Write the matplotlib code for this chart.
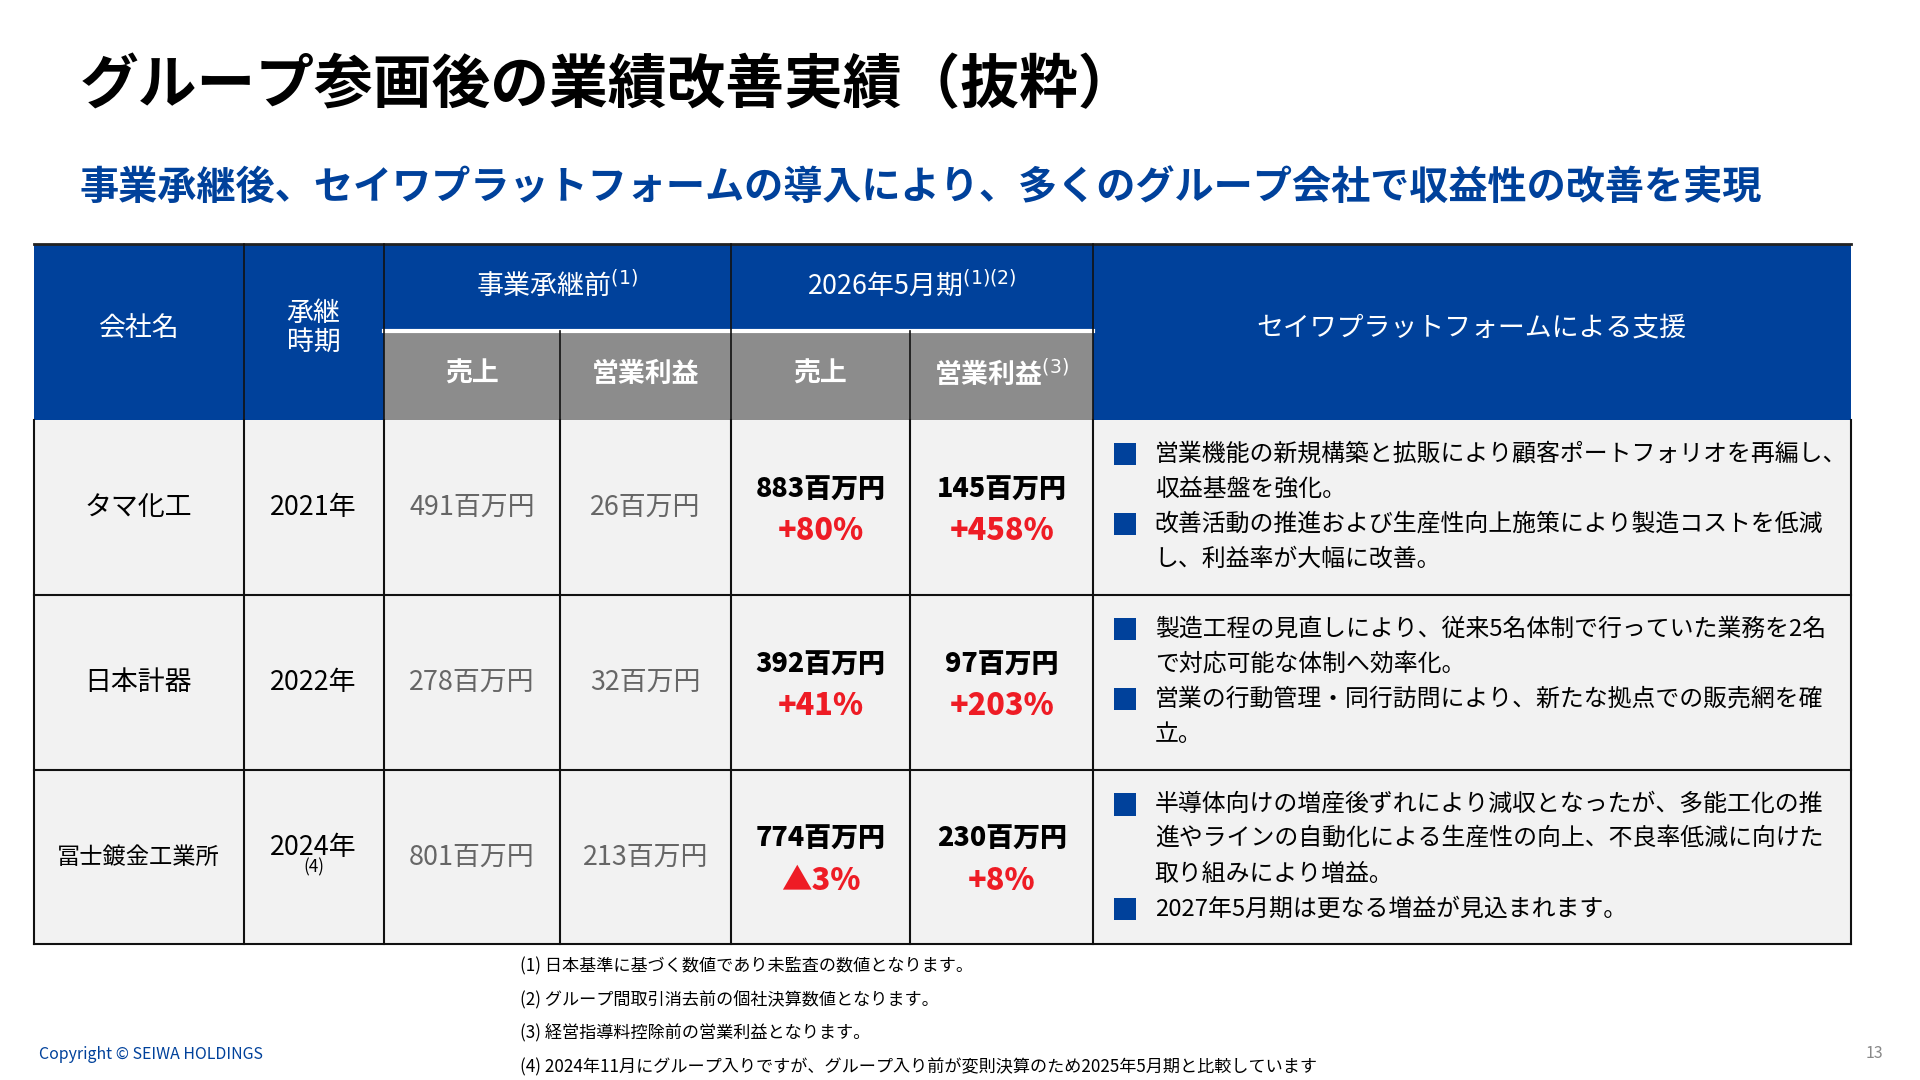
import matplotlib.pyplot as plt
from matplotlib.patches import Rectangle

plt.rcParams['font.family'] = ['Noto Sans CJK JP', 'DejaVu Sans']

BLUE = '#00419b'
GREY = '#8c8c8c'
RED = '#ee1c25'

companies = ['タマ化工', '日本計器', '冨士鍍金工業所']
years = ['2021年', '2022年', '2024年']
before_sales = ['491百万円', '278百万円', '801百万円']
before_profit = ['26百万円', '32百万円', '213百万円']
after_sales = ['883百万円', '392百万円', '774百万円']
after_sales_chg = ['+80%', '+41%', '▲3%']
after_profit = ['145百万円', '97百万円', '230百万円']
after_profit_chg = ['+458%', '+203%', '+8%']
support = [
    [['営業機能の新規構築と拡販により顧客ポートフォリオを再編し、', '収益基盤を強化。'],
     ['改善活動の推進および生産性向上施策により製造コストを低減', 'し、利益率が大幅に改善。']],
    [['製造工程の見直しにより、従来5名体制で行っていた業務を2名', 'で対応可能な体制へ効率化。'],
     ['営業の行動管理・同行訪問により、新たな拠点での販売網を確', '立。']],
    [['半導体向けの増産後ずれにより減収となったが、多能工化の推', '進やラインの自動化による生産性の向上、不良率低減に向けた', '取り組みにより増益。'],
     ['2027年5月期は更なる増益が見込まれます。']],
]
footnotes = ['(1) 日本基準に基づく数値であり未監査の数値となります。',
             '(2) グループ間取引消去前の個社決算数値となります。',
             '(3) 経営指導料控除前の営業利益となります。',
             '(4) 2024年11月にグループ入りですが、グループ入り前が変則決算のため2025年5月期と比較しています']

W, H = 1568, 882
fig = plt.figure(figsize=(19.2, 10.8), dpi=100)
ax = fig.add_axes([0, 0, 1, 1])
ax.set_xlim(0, W)
ax.set_ylim(H, 0)
ax.axis('off')
s = 1080 / H


def fs(px):
    return px * s * 0.72


ax.text(65, 70, 'グループ参画後の業績改善実績（抜粋）', fontsize=fs(48), fontweight='bold', va='center')
ax.text(65, 153, '事業承継後、セイワプラットフォームの導入により、多くのグループ会社で収益性の改善を実現',
        fontsize=fs(32), fontweight='bold', color=BLUE, va='center')

xs = [28, 199, 314, 457, 597, 743, 893, 1512]
ytop, ymid, yh = 199, 270, 343
rows = [343, 486, 629, 771]

# header
ax.add_patch(Rectangle((xs[0], ytop), xs[-1] - xs[0], yh - ytop, color=BLUE, lw=0))
ax.add_patch(Rectangle((xs[2], ymid), xs[6] - xs[2], yh - ymid, color=GREY, lw=0))
ax.plot([xs[2], xs[6]], [ymid, ymid], color='white', lw=3)
ax.plot([xs[0], xs[-1]], [ytop, ytop], color='#222', lw=2)
for x in [xs[1], xs[2], xs[4], xs[6]]:
    ax.plot([x, x], [ytop, yh], color='#111', lw=1.2)
for x in [xs[3], xs[5]]:
    ax.plot([x, x], [ymid, yh], color='#111', lw=1.2)
hfs = fs(22)
ax.text(113, 268, '会社名', color='white', fontsize=hfs, ha='center', va='center')
ax.text(256, 268, '承継\n時期', color='white', fontsize=hfs, ha='center', va='center', linespacing=1.1)
ax.text(455, 232, '事業承継前$^{(1)}$', color='white', fontsize=hfs, ha='center', va='center')
ax.text(745, 232, '2026年5月期$^{(1)(2)}$', color='white', fontsize=hfs, ha='center', va='center')
ax.text(1202, 268, 'セイワプラットフォームによる支援', color='white', fontsize=hfs, ha='center', va='center')
for (a, b), lab in zip([(2, 3), (3, 4), (4, 5), (5, 6)], ['売上', '営業利益', '売上', '営業利益$^{(3)}$']):
    ax.text((xs[a] + xs[b]) / 2, 305, lab, color='white', fontsize=hfs, fontweight='bold', ha='center', va='center')

# body
ax.add_patch(Rectangle((xs[0], rows[0]), xs[-1] - xs[0], rows[-1] - rows[0], color='#f2f2f2', lw=0))
for y in rows[1:]:
    ax.plot([xs[0], xs[-1]], [y, y], color='#111', lw=1.5)
for x in xs:
    ax.plot([x, x], [rows[0], rows[-1]], color='#111', lw=1.5)

for i in range(3):
    yc = (rows[i] + rows[i + 1]) / 2
    ax.text(113, yc, companies[i], fontsize=fs(22 if i < 2 else 19), ha='center', va='center')
    ax.text(256, yc - (8 if i == 2 else 0), years[i], fontsize=fs(22), ha='center', va='center')
    if i == 2:
        ax.text(256, yc + 8, '(4)', fontsize=fs(14), ha='center', va='center')
    ax.text((xs[2] + xs[3]) / 2, yc, before_sales[i], fontsize=fs(22), color='#666', ha='center', va='center')
    ax.text((xs[3] + xs[4]) / 2, yc, before_profit[i], fontsize=fs(22), color='#666', ha='center', va='center')
    ax.text((xs[4] + xs[5]) / 2, yc - 15, after_sales[i], fontsize=fs(22), fontweight='heavy', ha='center', va='center')
    ax.text((xs[4] + xs[5]) / 2, yc + 19, after_sales_chg[i], fontsize=fs(25), fontweight='heavy', color=RED, ha='center', va='center')
    ax.text((xs[5] + xs[6]) / 2, yc - 15, after_profit[i], fontsize=fs(22), fontweight='heavy', ha='center', va='center')
    ax.text((xs[5] + xs[6]) / 2, yc + 19, after_profit_chg[i], fontsize=fs(25), fontweight='heavy', color=RED, ha='center', va='center')
    y = rows[i] + 28
    for bullet in support[i]:
        ax.add_patch(Rectangle((910, y - 9), 18, 18, color=BLUE, lw=0))
        for line in bullet:
            ax.text(943, y, line, fontsize=fs(19.5), va='center')
            y += 28.5

for j, t in enumerate(footnotes):
    ax.text(425, 789 + 27.5 * j, t, fontsize=fs(14), va='center')
ax.text(32, 861, 'Copyright © SEIWA HOLDINGS', fontsize=fs(13), color=BLUE, va='center')
ax.text(1538, 860, '13', fontsize=fs(13), color='#888', ha='right', va='center')

fig.savefig('out.png', dpi=100, facecolor='white')
